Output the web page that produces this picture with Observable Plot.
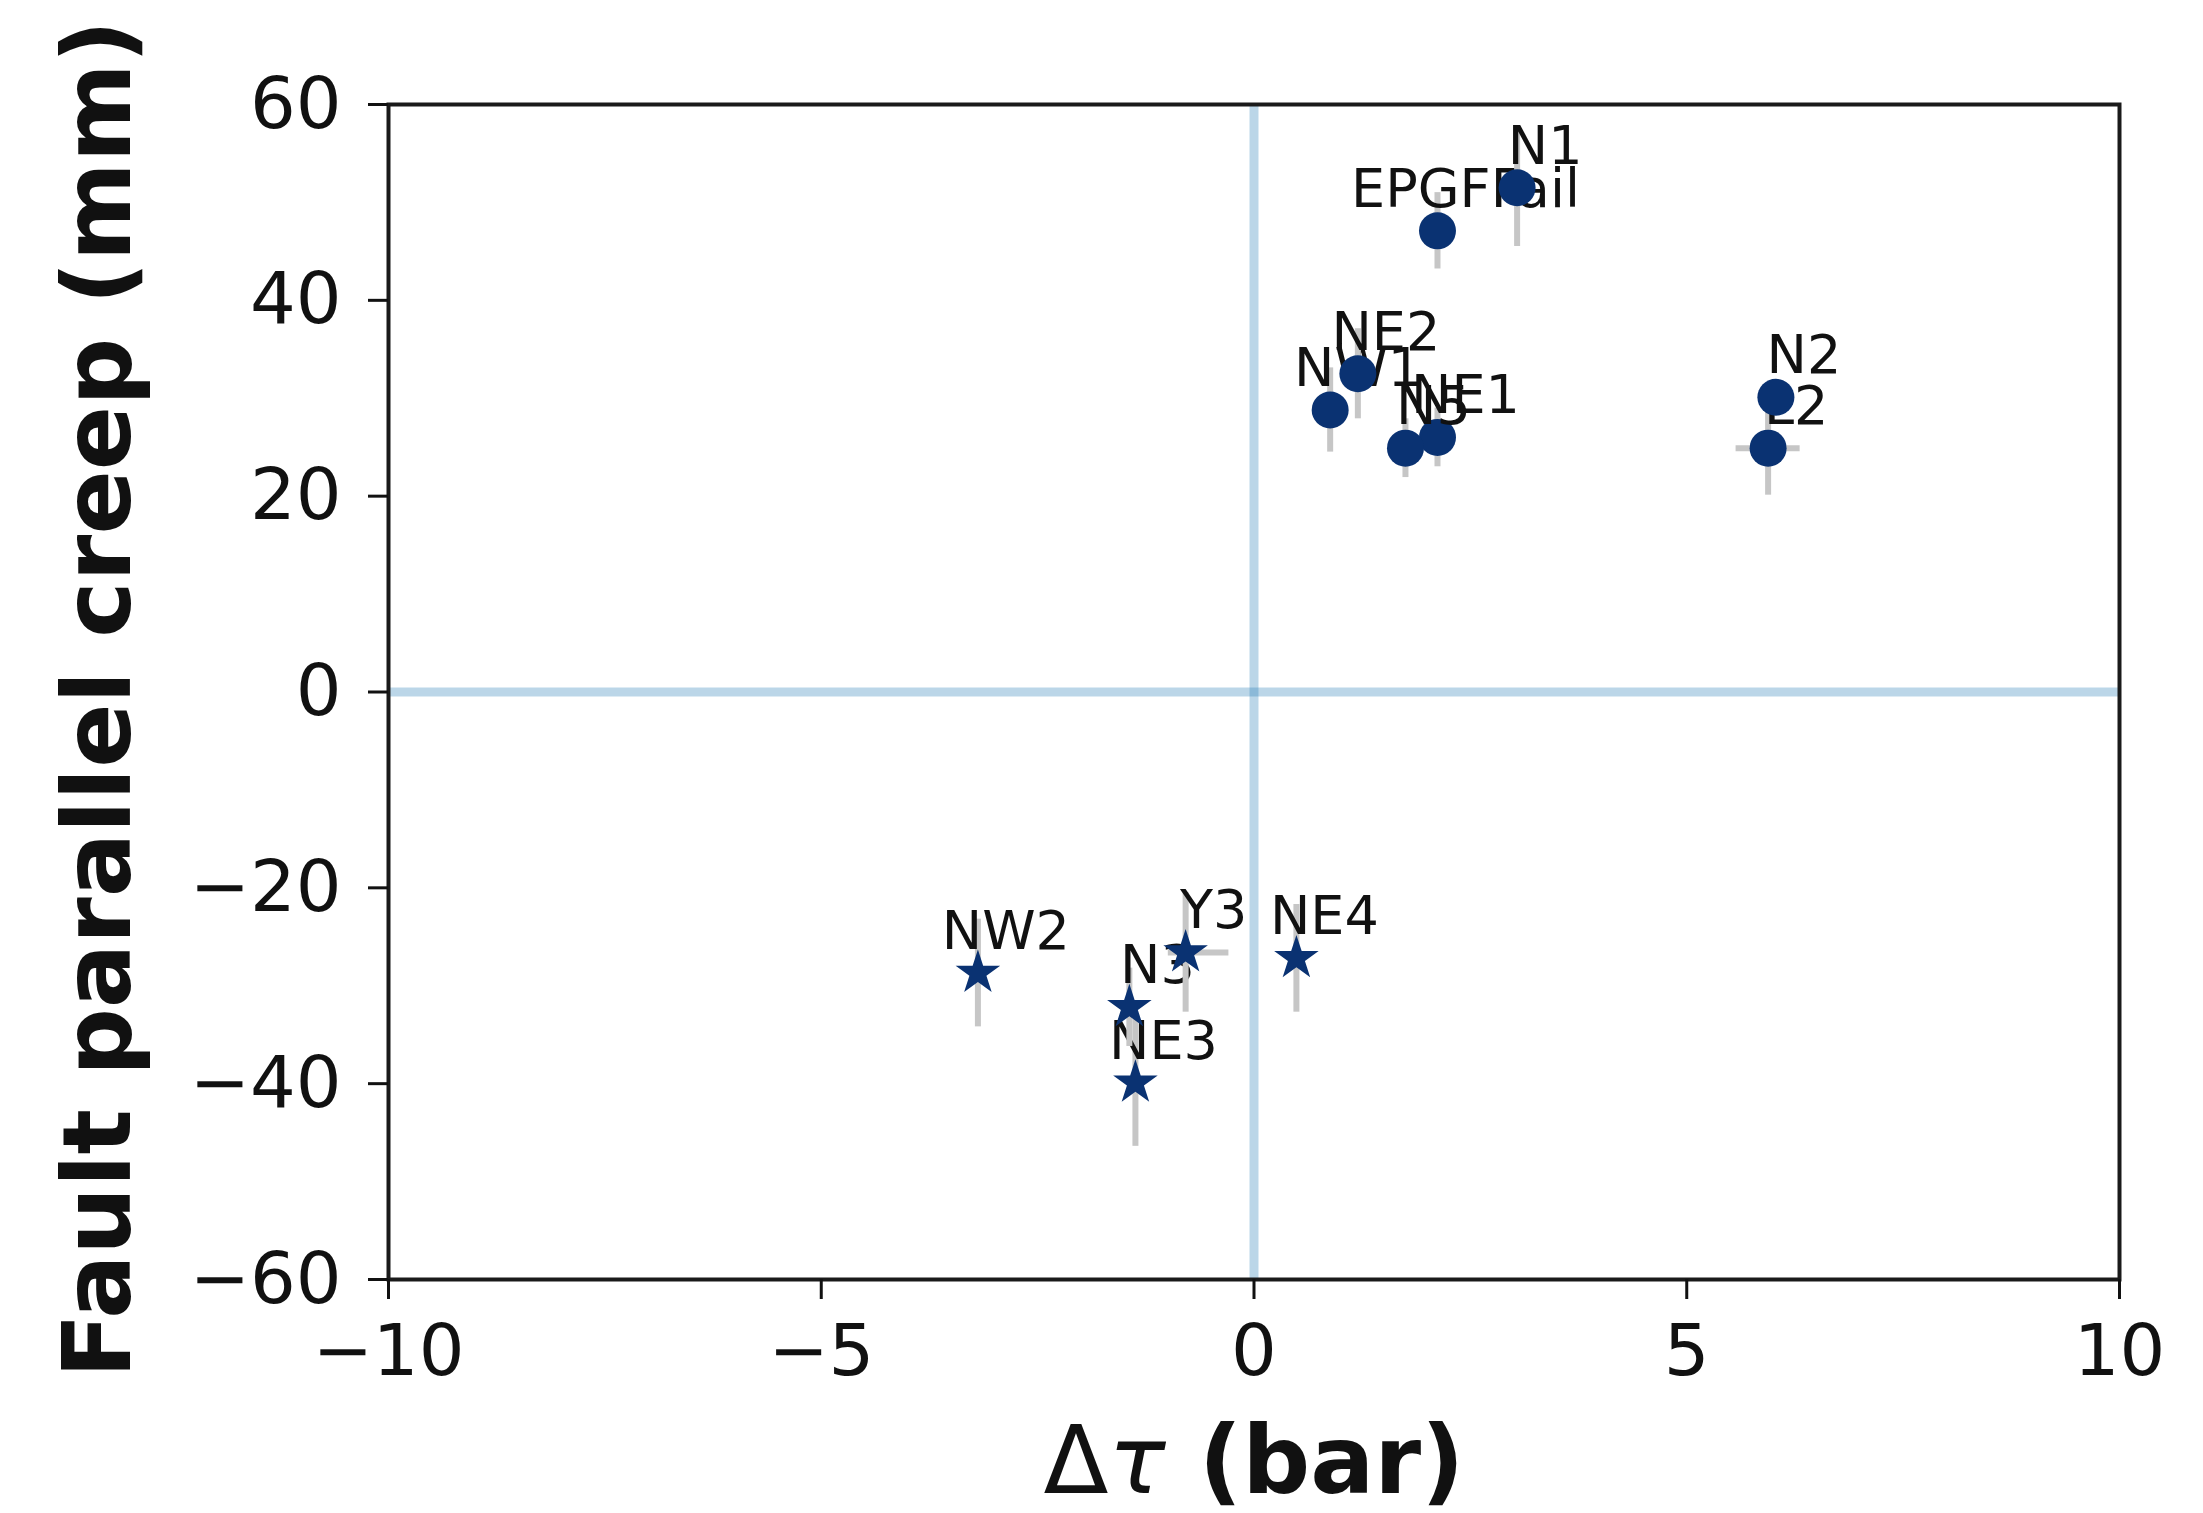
<!DOCTYPE html>
<html>
<head>
<meta charset="utf-8">
<script src="https://cdn.jsdelivr.net/npm/d3@7"></script>
<script src="https://cdn.jsdelivr.net/npm/@observablehq/plot@0.6"></script>
<style>
  html, body { margin: 0; padding: 0; background: #ffffff; }
  #chart svg { display: block; }
</style>
</head>
<body>
<div id="chart"></div>
<script>
// Creep sites, in the order they are drawn (later sites sit on top of earlier ones)
const sites        = ["NW1", "NE2", "NE1", "N5", "EPGFFail", "N1", "L2", "N2", "NW2", "NE3", "N3", "Y3", "NE4"];
// Coulomb shear stress change at each site (bar)
const stressChange = [0.88, 1.20, 2.12, 1.75, 2.12, 3.04, 5.94, 6.03, -3.19, -1.37, -1.44, -0.79, 0.49];
// Uncertainty on the stress change (bar), below / above
const stressErrLow  = [0, 0, 0, 0, 0, 0, 0.37, 0, 0, 0, 0, 0.20, 0];
const stressErrHigh = [0, 0, 0, 0, 0, 0, 0.37, 0, 0, 0, 0, 0.50, 0];
// Fault-parallel creep (mm) and its uncertainty
const creep    = [28.8, 32.5, 26.0, 24.9, 47.1, 51.5, 24.9, 30.1, -28.7, -39.9, -32.2, -26.6, -27.2];
const creepErr = [4.3, 4.6, 3.0, 3.0, 3.9, 6.0, 4.8, 1.5, 5.5, 6.5, 4.0, 6.1, 5.5];

const xTicks = [-10, -5, 0, 5, 10];
const yTicks = [-60, -40, -20, 0, 20, 40, 60];
const xLabel = "Δτ (bar)";
const yLabel = "Fault parallel creep (mm)";

const rows = sites.map((site, i) => ({
  site,
  x: stressChange[i],
  y: creep[i],
  xLo: stressChange[i] - stressErrLow[i],
  xHi: stressChange[i] + stressErrHigh[i],
  yLo: creep[i] - creepErr[i],
  yHi: creep[i] + creepErr[i]
}));

const navy = "#0a3272";
const errGray = "#c6c6c6";
const ink = "#111111";

const marks = [
  // zero reference lines
  Plot.ruleX([0], {stroke: "#1f77b4", strokeOpacity: 0.3, strokeWidth: 9}),
  Plot.ruleY([0], {stroke: "#1f77b4", strokeOpacity: 0.3, strokeWidth: 9})
];

// each site: error bars, marker, then its name
for (const d of rows) {
  marks.push(Plot.ruleX([d], {x: "x", y1: "yLo", y2: "yHi", stroke: errGray, strokeWidth: 6}));
  if (d.xHi > d.xLo) {
    marks.push(Plot.ruleY([d], {y: "y", x1: "xLo", x2: "xHi", stroke: errGray, strokeWidth: 6}));
  }
  const positive = d.y > 0;
  marks.push(Plot.dot([d], {
    x: "x", y: "y",
    symbol: positive ? "circle" : "star",
    r: positive ? 18.5 : 14,
    fill: navy, stroke: "none"
  }));
  marks.push(Plot.text([d], {
    x: "x", y: "y", text: "site",
    dx: 28, dy: -24, lineAnchor: "bottom",
    fontSize: 54, fill: ink
  }));
}

marks.push(
  Plot.frame({stroke: "#1a1a1a", strokeWidth: 4}),
  Plot.axisX({ticks: xTicks, tickSize: 20, tickPadding: 24, fontSize: 72, strokeWidth: 3, label: null, color: ink}),
  Plot.axisY({ticks: yTicks, tickSize: 20, tickPadding: 27, fontSize: 72, strokeWidth: 3, label: null, color: ink}),
  Plot.text([yLabel], {
    frameAnchor: "left", rotate: -90, dx: -259, dy: 7,
    lineAnchor: "bottom", textAnchor: "middle",
    fontSize: 95, fontWeight: "bold", fill: ink
  }),
  Plot.text([xLabel], {
    frameAnchor: "bottom", dy: 213, lineAnchor: "bottom",
    fontSize: 95, fontWeight: "bold", fill: ink
  })
);

const chart = Plot.plot({
  width: 2203,
  height: 1513,
  marginLeft: 388,
  marginRight: 84,
  marginTop: 104,
  marginBottom: 234,
  style: {fontFamily: "'DejaVu Sans', sans-serif", background: "#ffffff", color: ink},
  x: {domain: [-10, 10]},
  y: {domain: [-60, 60]},
  marks
});

// the Δτ symbol is set in regular weight with an italic tau, "(bar)" stays bold
d3.select(chart).selectAll("text")
  .filter(function () { return this.textContent === xLabel; })
  .each(function () {
    const t = d3.select(this);
    t.text(null);
    t.append("tspan").attr("font-weight", "normal").text("Δ");
    t.append("tspan").attr("font-weight", "normal").attr("font-style", "italic").text("τ");
    t.append("tspan").text(" (bar)");
  });

document.getElementById("chart").append(chart);
</script>
</body>
</html>
